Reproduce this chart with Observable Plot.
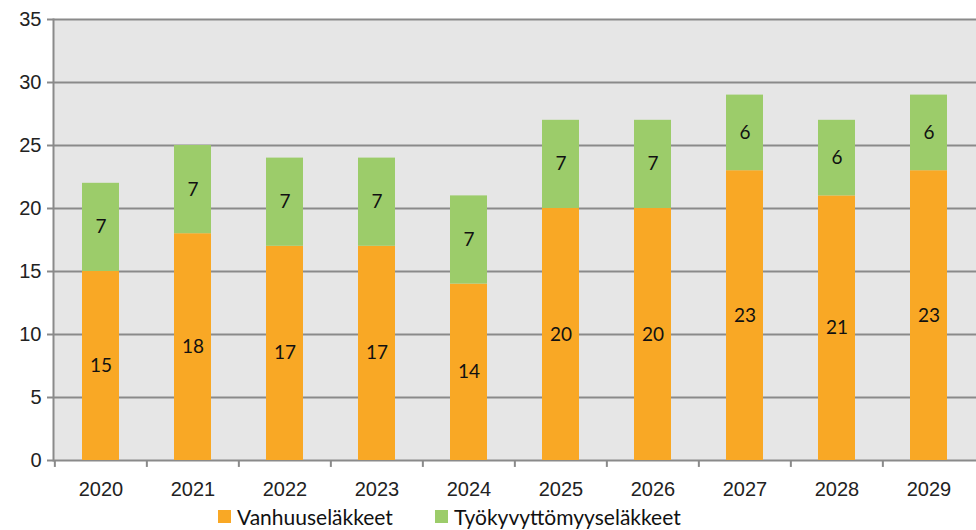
<!DOCTYPE html>
<html><head><meta charset="utf-8">
<script src="https://cdn.jsdelivr.net/npm/d3@7"></script>
<script src="https://cdn.jsdelivr.net/npm/@observablehq/plot@0.6"></script>
<style>
body{margin:0;background:#fff;}
#legend{display:flex;align-items:center;height:27px;font-family:Lato,"Open Sans",sans-serif;font-size:21px;color:#111;}
.sw{display:inline-block;width:13px;height:13px;margin-right:6px;}
.it{display:flex;align-items:center;}
</style></head>
<body><div id="chart"></div>
<div id="legend"></div>
<script>
const years = ["2020","2021","2022","2023","2024","2025","2026","2027","2028","2029"];
const series = ["Vanhuuseläkkeet","Työkyvyttömyyseläkkeet"];
const vanhuus = [15,18,17,17,14,20,20,23,21,23];
const tyokyvyttomyys = [7,7,7,7,7,7,7,6,6,6];
const yTicks = [0,5,10,15,20,25,30,35];
const colors = ["#f9a825","#9ccc6a"];

const data = [];
years.forEach((y,i)=>{
  data.push({year:y, series:series[0], value:vanhuus[i]});
  data.push({year:y, series:series[1], value:tyokyvyttomyys[i]});
});

const W = 976, H = 503, mL = 53, mR = 0;
const step = (W - mL - mR) / years.length;

const chart = Plot.plot({
  width: W, height: H,
  marginTop: 19, marginBottom: 43, marginLeft: 53, marginRight: 0,
  style: {fontFamily: "'Liberation Sans', Arial, sans-serif", fontSize: "20px", color: "#222", background: "#fff"},
  x: {domain: years, paddingInner: 0.6, paddingOuter: 0.3, label: null},
  y: {domain: [0,35], label: null},
  color: {domain: series, range: colors},
  marks: [
    Plot.frame({fill: "#e6e6e6", stroke: null}),
    Plot.ruleY(yTicks, {stroke: "#8a8a8a", strokeWidth: 2}),
    Plot.barY(data, {x: "year", y: "value", fill: "series"}),
    Plot.text(data, Plot.stackY({x: "year", y: "value", text: "value", fill: "#111", fontFamily: "Lato, 'Open Sans', sans-serif", fontSize: 19})),
    Plot.ruleX(years, {x: d => d, dx: -step/2, y1: 0, y2: -0.55, stroke: "#8a8a8a", strokeWidth: 2}),
    Plot.frame({anchor: "left", stroke: "#8a8a8a", strokeWidth: 2}),
    Plot.axisY({ticks: yTicks, tickSize: 6, tickPadding: 6, stroke: "#8a8a8a", strokeWidth: 2, fill: "#222", fontSize: 20}),
    Plot.axisX({tickSize: 0, tickPadding: 21, fill: "#222", fontSize: 20})
  ]
});
document.getElementById("chart").appendChild(chart);

const lg = document.getElementById("legend");
lg.style.paddingLeft = "218px";
series.forEach((s,i)=>{
  const it = document.createElement("span");
  it.className = "it";
  if (i>0) it.style.marginLeft = "42px";
  it.innerHTML = `<span class="sw" style="background:${colors[i]}"></span><span>${s}</span>`;
  lg.appendChild(it);
});
</script></body></html>
